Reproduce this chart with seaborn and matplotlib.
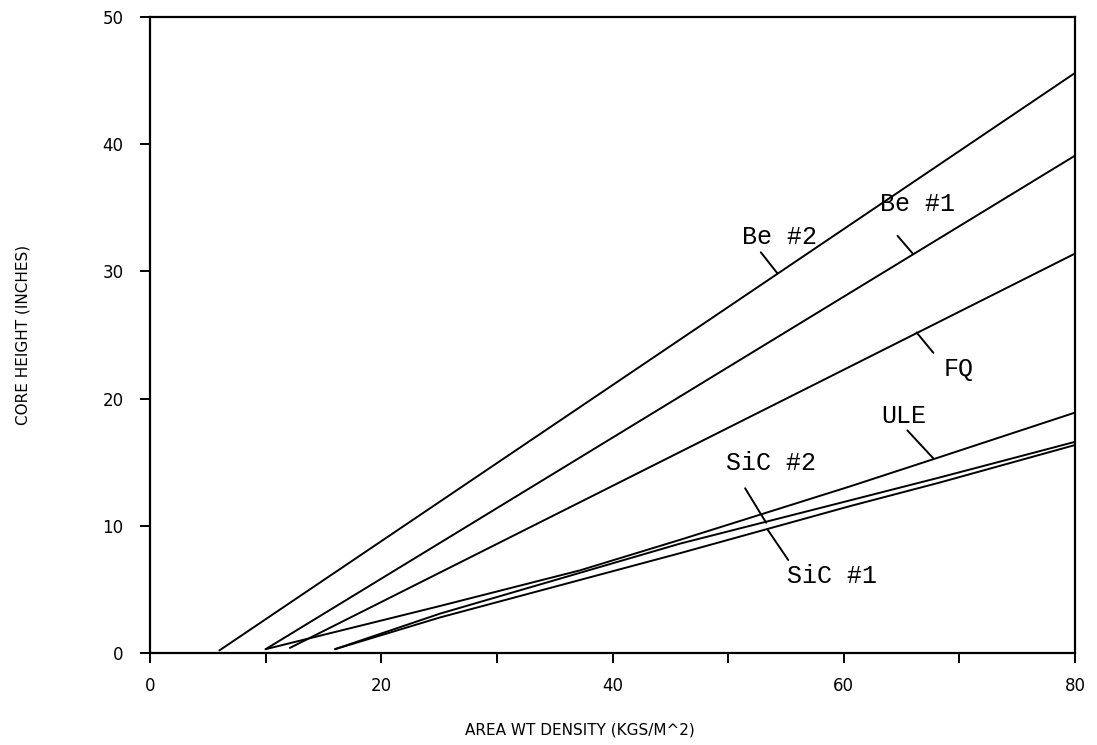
import matplotlib
matplotlib.use("Agg")
import matplotlib.pyplot as plt
import seaborn as sns
import pandas as pd

# Core height vs. areal weight density for candidate mirror materials
be2_x = [6.0, 80.0]
be2_y = [0.2, 45.6]
be1_x = [10.0, 80.0]
be1_y = [0.3, 39.1]
fq_x = [12.1, 80.0]
fq_y = [0.4, 31.4]
ule_x = [10.0, 25.1, 37.2, 45.85, 60.55, 68.3, 80.0]
ule_y = [0.3, 3.7, 6.5, 8.9, 13.1, 15.4, 18.9]
sic2_x = [16.0, 25.1, 45.85, 60.55, 68.3, 80.0]
sic2_y = [0.3, 3.1, 8.6, 12.0, 13.8, 16.6]
sic1_x = [16.0, 25.1, 45.85, 60.55, 68.3, 80.0]
sic1_y = [0.3, 2.8, 7.85, 11.55, 13.4, 16.35]

materials = ["Be #2", "Be #1", "FQ", "ULE", "SiC #2", "SiC #1"]
xs = [be2_x, be1_x, fq_x, ule_x, sic2_x, sic1_x]
ys = [be2_y, be1_y, fq_y, ule_y, sic2_y, sic1_y]

# label text position and leader line (start, end) in data units
label_pos = [(54.4, 32.7), (66.4, 35.3), (69.9, 22.3), (65.2, 18.6), (53.7, 14.9), (59.0, 6.05)]
leaders = [((52.83, 31.5), (54.26, 29.85)),
           ((64.65, 32.8), (65.97, 31.4)),
           ((66.3, 25.2), (67.75, 23.6)),
           ((65.5, 17.5), (67.75, 15.3)),
           ((51.47, 12.95), (53.29, 10.24)),
           ((53.4, 9.72), (55.2, 7.31))]

x_ticks = [0, 20, 40, 60, 80]
y_ticks = [0, 10, 20, 30, 40, 50]

frames = []
for name, x, y in zip(materials, xs, ys):
    frames.append(pd.DataFrame({"density": x, "height": y, "material": name}))
df = pd.concat(frames, ignore_index=True)

sns.set_theme(style="white")
plt.rcParams["font.family"] = ["DejaVu Sans"]
plt.rcParams["text.color"] = "black"
plt.rcParams["axes.labelcolor"] = "black"

fig = plt.figure(figsize=(10.97, 7.45), dpi=100)
ax = fig.add_axes([150 / 1097, 1 - 653 / 745, 925 / 1097, 636 / 745])

sns.lineplot(data=df, x="density", y="height", hue="material",
             palette=["black"] * len(materials), sort=False, estimator=None,
             legend=False, linewidth=1.4, ax=ax)

for name, (tx, ty), (p0, p1) in zip(materials, label_pos, leaders):
    ax.text(tx, ty, name, ha="center", va="center", fontsize=18,
            family="Liberation Mono", color="black")
    ax.plot([p0[0], p1[0]], [p0[1], p1[1]], color="black", linewidth=1.4)

ax.set_xlim(0, 80)
ax.set_ylim(0, 50)
ax.set_xticks(range(0, 81, 10))
ax.set_xticklabels([str(t) if t in x_ticks else "" for t in range(0, 81, 10)])
ax.set_yticks(y_ticks)
ax.tick_params(axis="both", direction="out", length=7, width=1.4,
               bottom=True, left=True, top=False, right=False,
               color="black", labelsize=12, labelcolor="black", pad=10)
ax.tick_params(axis="y", pad=12)
for s in ax.spines.values():
    s.set_color("black")
    s.set_linewidth(1.6)

ax.set_xlabel("AREA WT DENSITY (KGS/M^2)", fontsize=11, labelpad=20, color="black")
ax.set_ylabel("CORE HEIGHT (INCHES)", fontsize=11, labelpad=52, color="black")
ax.xaxis.label.set_x((580 - 150) / 925)

fig.savefig("out.png", dpi=100, facecolor="white")
